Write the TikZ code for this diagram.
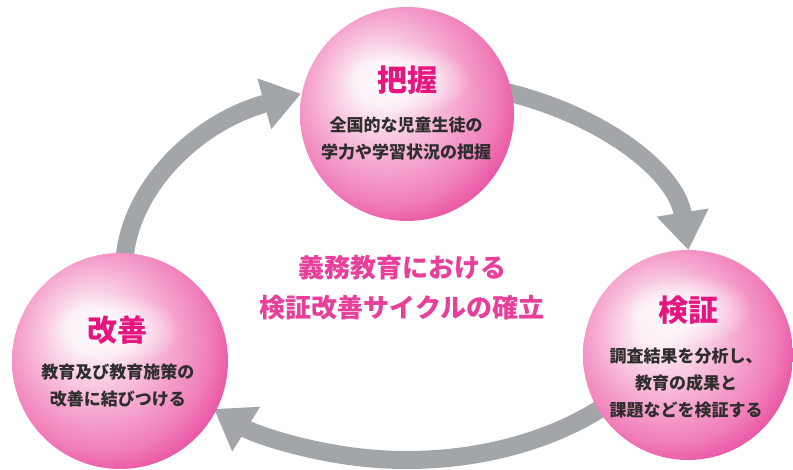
\documentclass[tikz,border=0pt]{standalone}
\usepackage{fontspec}
\setmainfont{Noto Sans CJK JP}
\usetikzlibrary{arrows.meta,fadings}
\definecolor{pkA}{HTML}{FCEFF6}
\definecolor{pkB}{HTML}{F6A9D0}
\definecolor{pkM}{HTML}{F07DB9}
\definecolor{pkC}{HTML}{E94A9D}
\definecolor{pkD}{HTML}{E3248A}
\definecolor{ttl}{HTML}{E6157F}
\definecolor{ctl}{HTML}{E8409A}
\definecolor{arr}{HTML}{A3A6A9}
\definecolor{txt}{HTML}{2E2E2E}
\pgfdeclareradialshading{pinkball}{\pgfqpoint{-8bp}{8bp}}{color(0bp)=(pkA); color(5bp)=(pkA); color(17bp)=(pkB); color(25bp)=(pkM); color(31bp)=(pkC); color(37bp)=(pkD); color(50bp)=(pkD)}
\tikzfading[name=glow, inner color=transparent!0, outer color=transparent!100]
\tikzset{
  ball/.style={circle, minimum size=#1, inner sep=0pt, shading=pinkball},
  cyc/.style={line width=18pt, draw=arr, -{Triangle[length=38pt,width=50pt]}},
  ttlstyle/.style={text=ttl, font=\fontsize{30}{32}\selectfont\bfseries},
  bodystyle/.style={text=txt, align=center, font=\fontsize{17}{27}\selectfont\bfseries},
  centerstyle/.style={text=ctl, align=center, font=\fontsize{26}{40}\selectfont\bfseries},
}
\begin{document}
\begin{tikzpicture}[x=1pt,y=1pt]
\useasboundingbox (0,0) rectangle (793,470);
\fill[white] (0,0) rectangle (793,470);
\coordinate (C) at (407,200);
\coordinate (a1s) at ([shift={(180:283pt and 190pt)}]C);
\coordinate (a2s) at ([shift={(80:283pt and 190pt)}]C);
\coordinate (a3s) at ([shift={(-40:283pt and 190pt)}]C);
\draw[cyc] (a1s) arc[start angle=180, end angle=112, x radius=283pt, y radius=190pt];
\draw[cyc] (a2s) arc[start angle=80, end angle=6, x radius=283pt, y radius=190pt];
\draw[cyc] (a3s) arc[start angle=-40, end angle=-133, x radius=283pt, y radius=190pt];
% spheres
\node[ball=214pt] (haaku) at (407,356) {};
\node[ball=210pt] (kensho) at (688,115) {};
\node[ball=216pt] (kaizen) at (120,109) {};
% glows
\fill[white, path fading=glow] (407,390) ellipse (64pt and 36pt);
\fill[white, path fading=glow] (688,160) ellipse (64pt and 36pt);
\fill[white, path fading=glow] (117,140) ellipse (64pt and 36pt);
% titles
\node[ttlstyle] (t1) at (407,390) {把握};
\node[ttlstyle] (t2) at (688,160) {検証};
\node[ttlstyle] (t3) at (117,140) {改善};
\node[bodystyle] (b1) at (406,331) {全国的な児童生徒の\\学力や学習状況の把握};
\node[bodystyle] (b2) at (686,87) {調査結果を分析し、\\教育の成果と\\課題などを検証する};
\node[bodystyle] (b3) at (118,84) {教育及び教育施策の\\改善に結びつける};
\node[centerstyle] (ct) at (402,182) {義務教育における\\検証改善サイクルの確立};
\end{tikzpicture}
\end{document}
